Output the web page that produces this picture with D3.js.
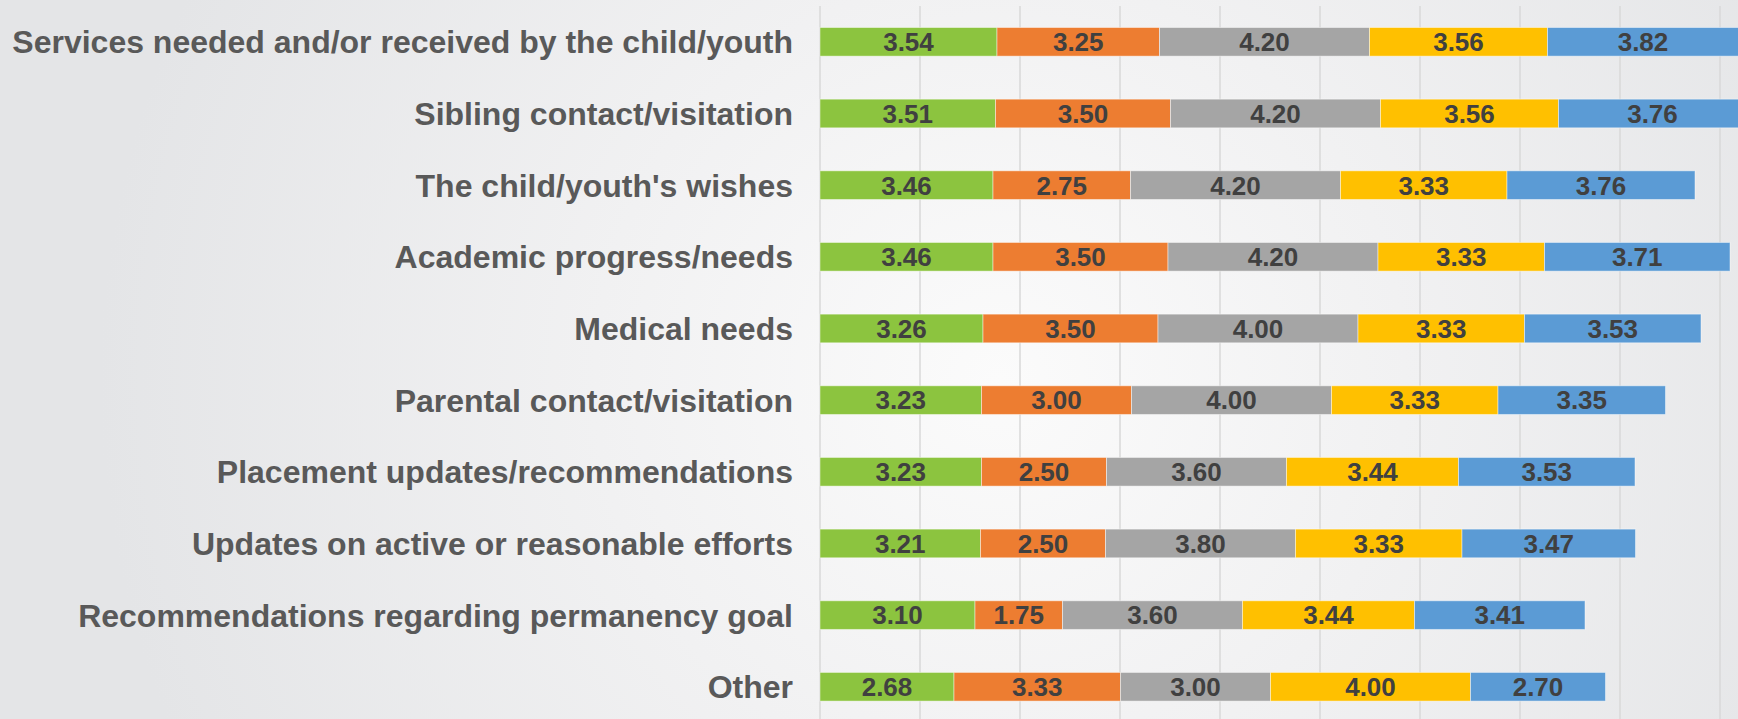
<!DOCTYPE html>
<html>
<head>
<meta charset="utf-8">
<script src="https://cdn.jsdelivr.net/npm/d3@7"></script>
<style>
html,body{margin:0;padding:0;overflow:hidden;background:#e6e7e9;}
svg{display:block;}
</style>
</head>
<body>
<svg id="chart" width="1738" height="719"></svg>
<script>
const categories = [
  "Services needed and/or received by the child/youth",
  "Sibling contact/visitation",
  "The child/youth's wishes",
  "Academic progress/needs",
  "Medical needs",
  "Parental contact/visitation",
  "Placement updates/recommendations",
  "Updates on active or reasonable efforts",
  "Recommendations regarding permanency goal",
  "Other"
];
const seriesNames = ["S1","S2","S3","S4","S5"];
const series1 = [3.54,3.51,3.46,3.46,3.26,3.23,3.23,3.21,3.10,2.68];
const series2 = [3.25,3.50,2.75,3.50,3.50,3.00,2.50,2.50,1.75,3.33];
const series3 = [4.20,4.20,4.20,4.20,4.00,4.00,3.60,3.80,3.60,3.00];
const series4 = [3.56,3.56,3.33,3.33,3.33,3.33,3.44,3.33,3.44,4.00];
const series5 = [3.82,3.76,3.76,3.71,3.53,3.35,3.53,3.47,3.41,2.70];
const colors = ["#8cc43f","#ed7d31","#a5a5a5","#ffc000","#5b9bd5"];
const gridTicks = [0,2,4,6,8,10,12,14,16,18,20];

const allSeries = [series1,series2,series3,series4,series5];
const table = categories.map((c,i)=>{
  const o = {cat:c};
  seriesNames.forEach((s,j)=>{o[s]=allSeries[j][i];});
  return o;
});

const W = 1738, H = 719;
const svg = d3.select("#chart");

// background
const defs = svg.append("defs");
const rg = defs.append("radialGradient").attr("id","bg")
  .attr("gradientUnits","userSpaceOnUse")
  .attr("cx",1000).attr("cy",380).attr("r",900);
rg.append("stop").attr("offset","0").attr("stop-color","#fbfbfb");
rg.append("stop").attr("offset","0.45").attr("stop-color","#f1f1f2");
rg.append("stop").attr("offset","1").attr("stop-color","#e4e5e7");
svg.append("rect").attr("width",W).attr("height",H).attr("fill","url(#bg)");

const x = d3.scaleLinear().domain([0,20]).range([820,1820]);
const y = d3.scaleBand().domain(categories).range([6,722.6]).paddingInner(0.6).paddingOuter(0.3);

// gridlines
svg.append("g").selectAll("line").data(gridTicks).join("line")
  .attr("x1",d=>x(d)).attr("x2",d=>x(d))
  .attr("y1",6).attr("y2",H)
  .attr("stroke","#d9d9d9").attr("stroke-width",1.5);

const stack = d3.stack().keys(seriesNames)(table);

const g = svg.append("g");
stack.forEach((layer,j)=>{
  const lg = g.append("g");
  lg.selectAll("rect").data(layer).join("rect")
    .attr("x",d=>x(d[0]))
    .attr("y",d=>y(d.data.cat))
    .attr("width",d=>x(d[1])-x(d[0]))
    .attr("height",y.bandwidth())
    .attr("fill",colors[j])
    .attr("stroke","#ffffff").attr("stroke-opacity",0.45).attr("stroke-width",1);
  lg.selectAll("text").data(layer).join("text")
    .attr("x",d=>(x(d[0])+x(d[1]))/2)
    .attr("y",d=>y(d.data.cat)+y.bandwidth()/2)
    .attr("dy","0.36em")
    .attr("text-anchor","middle")
    .attr("font-family","Liberation Sans, Arial, sans-serif")
    .attr("font-weight","bold")
    .attr("font-size",26)
    .attr("fill","#404040")
    .text(d=>(d[1]-d[0]).toFixed(2));
});

// category labels
svg.append("g").selectAll("text").data(categories).join("text")
  .attr("x",793)
  .attr("y",d=>y(d)+y.bandwidth()/2)
  .attr("dy","0.36em")
  .attr("text-anchor","end")
  .attr("font-family","Liberation Sans, Arial, sans-serif")
  .attr("font-weight","bold")
  .attr("font-size",32)
  .attr("fill","#595959")
  .text(d=>d);
</script>
</body>
</html>
